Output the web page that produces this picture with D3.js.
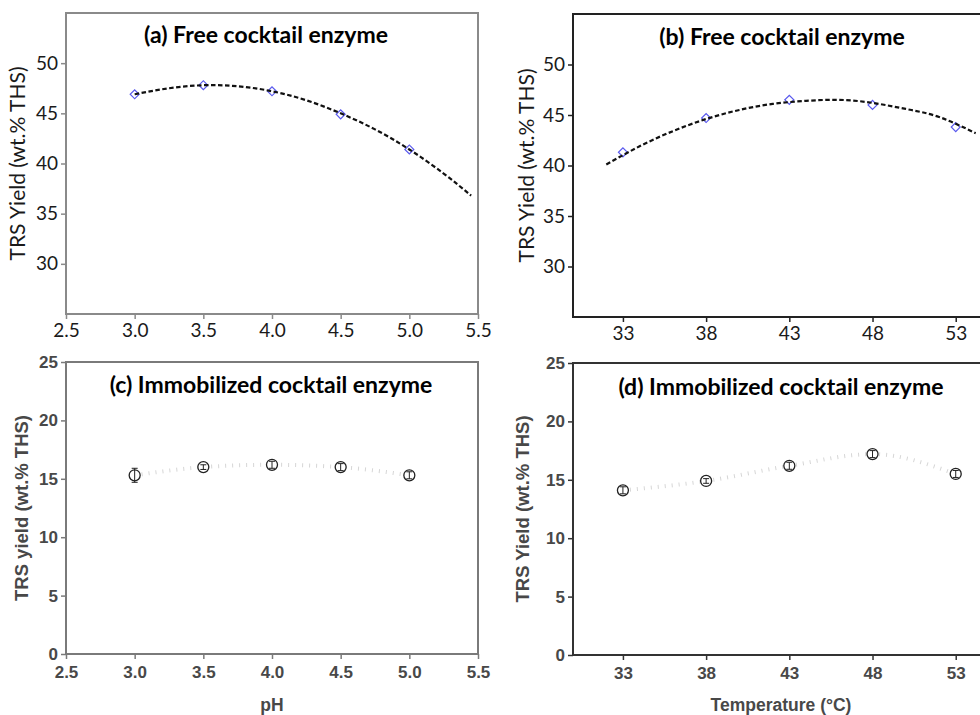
<!DOCTYPE html>
<html lang="en">
<head>
<meta charset="UTF-8" />
<script src="https://d3js.org/d3.v7.min.js"></script>
<title>TRS yield vs pH and temperature</title>
<style>
  body { margin: 0; background: #fff; }
</style>
</head>
<body>
<div id="chart"></div>
<script>
// ---- data ----
var phValues = [3.0, 3.5, 4.0, 4.5, 5.0];
var tempValues = [33, 38, 43, 48, 53];

// (a) free enzyme vs pH
var freePhYield = [46.9, 47.8, 47.2, 44.9, 41.4];
var freePhFitX = [3.0, 3.25, 3.5, 3.75, 4.0, 4.25, 4.5, 4.75, 5.0, 5.25, 5.45];
var freePhFitY = [46.9, 47.5, 47.8, 47.7, 47.2, 46.3, 45.0, 43.4, 41.4, 39.0, 36.8];

// (b) free enzyme vs temperature
var freeTempYield = [41.3, 44.7, 46.5, 46.0, 43.8];
var freeTempFitX = [32, 34, 36, 38, 40, 42, 44, 46, 48, 50, 52, 54.2];
var freeTempFitY = [40.1, 41.9, 43.4, 44.6, 45.5, 46.1, 46.4, 46.5, 46.2, 45.6, 44.8, 43.2];

// (c) immobilized enzyme vs pH
var immPhYield = [15.3, 16.0, 16.2, 16.0, 15.3];
var immPhErr = [0.6, 0.2, 0.3, 0.3, 0.3];

// (d) immobilized enzyme vs temperature
var immTempYield = [14.1, 14.9, 16.2, 17.2, 15.5];
var immTempErr = [0.3, 0.2, 0.3, 0.3, 0.3];

// tick labels
var phTicks = [2.5, 3.0, 3.5, 4.0, 4.5, 5.0, 5.5];
var tempTicks = [33, 38, 43, 48, 53];
var freeYTicks = [30, 35, 40, 45, 50];
var immYTicks = [0, 5, 10, 15, 20, 25];

var svg = d3.select("#chart").append("svg")
    .attr("width", 980)
    .attr("height", 715);

var calibri = "Lato, 'Open Sans', sans-serif";
var arial = "'Liberation Sans', Arial, sans-serif";

function drawFree(p) {
  var x = d3.scaleLinear().domain(p.xDomain).range([p.left, p.right]);
  var y = d3.scaleLinear().domain([25, 55]).range([p.bottom, p.top]);
  var g = svg.append("g");

  // frame
  g.append("rect")
    .attr("x", p.left).attr("y", p.top)
    .attr("width", p.right - p.left).attr("height", p.bottom - p.top)
    .attr("fill", "none").attr("stroke", p.frame).attr("stroke-width", 2);

  var yAxis = g.append("g").attr("transform", "translate(" + p.left + ",0)")
    .call(d3.axisLeft(y).tickValues(freeYTicks).tickSize(5).tickPadding(3));
  var xAxis = g.append("g").attr("transform", "translate(0," + p.bottom + ")")
    .call(d3.axisBottom(x).tickValues(p.xTicks).tickSize(5).tickPadding(5)
      .tickFormat(p.fmt));
  [xAxis, yAxis].forEach(function(a) {
    a.select(".domain").remove();
    a.selectAll("line").attr("stroke", p.frame).attr("stroke-width", 1.5);
    a.selectAll("text").attr("fill", "#1a1a1a")
      .style("font-family", calibri).style("font-size", "19px");
  });

  g.append("text")
    .attr("transform", "translate(" + p.yLabelX + "," + ((p.top + p.bottom) / 2) + ") rotate(-90)")
    .attr("text-anchor", "middle").attr("dy", "0.35em")
    .style("font-family", calibri).style("font-size", "21px").attr("fill", "#1a1a1a")
    .text("TRS Yield (wt.% THS)");

  g.append("text")
    .attr("x", p.titleX).attr("y", p.titleY)
    .attr("text-anchor", "middle")
    .style("font-family", calibri).style("font-size", "23px").style("font-weight", "bold")
    .text(p.title);

  // markers
  var sym = d3.symbol().type(d3.symbolSquare).size(40);
  g.selectAll(".pt").data(p.xs).enter().append("path")
    .attr("d", sym)
    .attr("transform", function(d, i) { return "translate(" + x(d) + "," + y(p.ys[i]) + ") rotate(45)"; })
    .attr("fill", "#fff").attr("stroke", "#5a5aee").attr("stroke-width", 1.2);

  // fitted curve
  var fit = p.fitX.map(function(d, i) { return [d, p.fitY[i]]; });
  g.append("path").datum(fit)
    .attr("d", d3.line().x(function(d) { return x(d[0]); }).y(function(d) { return y(d[1]); })
      .curve(d3.curveNatural))
    .attr("fill", "none").attr("stroke", "#111").attr("stroke-width", 2.2)
    .attr("stroke-dasharray", "4.5,2.5");
}

function drawImm(p) {
  var x = d3.scaleLinear().domain(p.xDomain).range([p.left, p.right]);
  var y = d3.scaleLinear().domain([0, 25]).range([p.bottom, p.top]);
  var g = svg.append("g");

  g.append("rect")
    .attr("x", p.left).attr("y", p.top)
    .attr("width", p.right - p.left).attr("height", p.bottom - p.top)
    .attr("fill", "none").attr("stroke", p.frame).attr("stroke-width", 2);

  var yAxis = g.append("g").attr("transform", "translate(" + p.left + ",0)")
    .call(d3.axisLeft(y).tickValues(immYTicks).tickSize(5).tickPadding(3));
  var xAxis = g.append("g").attr("transform", "translate(0," + p.bottom + ")")
    .call(d3.axisBottom(x).tickValues(p.xTicks).tickSize(5).tickPadding(7)
      .tickFormat(p.fmt));
  [xAxis, yAxis].forEach(function(a) {
    a.select(".domain").remove();
    a.selectAll("line").attr("stroke", p.frame).attr("stroke-width", 1.5);
    a.selectAll("text").attr("fill", "#484848")
      .style("font-family", arial).style("font-size", "17px").style("font-weight", "bold");
  });

  g.append("text")
    .attr("transform", "translate(" + p.yLabelX + "," + ((p.top + p.bottom) / 2) + ") rotate(-90)")
    .attr("text-anchor", "middle").attr("dy", "0.35em")
    .style("font-family", arial).style("font-size", "18.5px").style("font-weight", "bold")
    .attr("fill", "#484848")
    .text(p.yLabel);

  g.append("text")
    .attr("x", p.xLabelX).attr("y", 711)
    .attr("text-anchor", "middle")
    .style("font-family", arial).style("font-size", "17.5px").style("font-weight", "bold")
    .attr("fill", "#484848")
    .text(p.xLabel);

  g.append("text")
    .attr("x", p.titleX).attr("y", p.titleY)
    .attr("text-anchor", "middle")
    .style("font-family", calibri).style("font-size", "23px").style("font-weight", "bold")
    .text(p.title);

  var pts = p.xs.map(function(d, i) { return [d, p.ys[i], p.err[i]]; });

  // light dotted connector
  g.append("path").datum(pts)
    .attr("d", d3.line().x(function(d) { return x(d[0]); }).y(function(d) { return y(d[1]); })
      .curve(d3.curveMonotoneX))
    .attr("fill", "none").attr("stroke", "#d6d6d6").attr("stroke-width", 4)
    .attr("stroke-dasharray", "1,6");

  var pt = g.selectAll(".pt").data(pts).enter().append("g");
  pt.append("circle")
    .attr("cx", function(d) { return x(d[0]); })
    .attr("cy", function(d) { return y(d[1]); })
    .attr("r", 5.5)
    .attr("fill", "#fff").attr("stroke", "#222").attr("stroke-width", 1.3);
  // error bars
  pt.append("path")
    .attr("d", function(d) {
      var cx = x(d[0]), t = y(d[1] + d[2]), b = y(d[1] - d[2]);
      return "M" + cx + "," + t + "V" + b +
        "M" + (cx - 3) + "," + t + "H" + (cx + 3) +
        "M" + (cx - 3) + "," + b + "H" + (cx + 3);
    })
    .attr("fill", "none").attr("stroke", "#222").attr("stroke-width", 1);
}

var fmt1 = d3.format(".1f");
var fmt0 = d3.format("d");

drawFree({
  left: 66, right: 478, top: 13, bottom: 314, frame: "#8a8a8a",
  xDomain: [2.5, 5.5], xTicks: phTicks, fmt: fmt1,
  xs: phValues, ys: freePhYield, fitX: freePhFitX, fitY: freePhFitY,
  yLabelX: 18, title: "(a) Free cocktail enzyme", titleX: 266, titleY: 43
});

drawFree({
  left: 573, right: 989, top: 14, bottom: 317, frame: "#222",
  xDomain: [30, 55], xTicks: tempTicks, fmt: fmt0,
  xs: tempValues, ys: freeTempYield, fitX: freeTempFitX, fitY: freeTempFitY,
  yLabelX: 527, title: "(b) Free cocktail enzyme", titleX: 782, titleY: 45
});

drawImm({
  left: 66, right: 478, top: 362, bottom: 654, frame: "#7a7a7a",
  xDomain: [2.5, 5.5], xTicks: phTicks, fmt: fmt1,
  xs: phValues, ys: immPhYield, err: immPhErr,
  yLabelX: 22, yLabel: "TRS yield (wt.% THS)", xLabel: "pH", xLabelX: 272,
  title: "(c) Immobilized cocktail enzyme", titleX: 271, titleY: 393
});

drawImm({
  left: 573, right: 989, top: 363, bottom: 655, frame: "#333",
  xDomain: [30, 55], xTicks: tempTicks, fmt: fmt0,
  xs: tempValues, ys: immTempYield, err: immTempErr,
  yLabelX: 523, yLabel: "TRS Yield (wt.% THS)", xLabel: "Temperature (\u00B0C)", xLabelX: 781,
  title: "(d) Immobilized cocktail enzyme", titleX: 781, titleY: 395
});
</script>
</body>
</html>
